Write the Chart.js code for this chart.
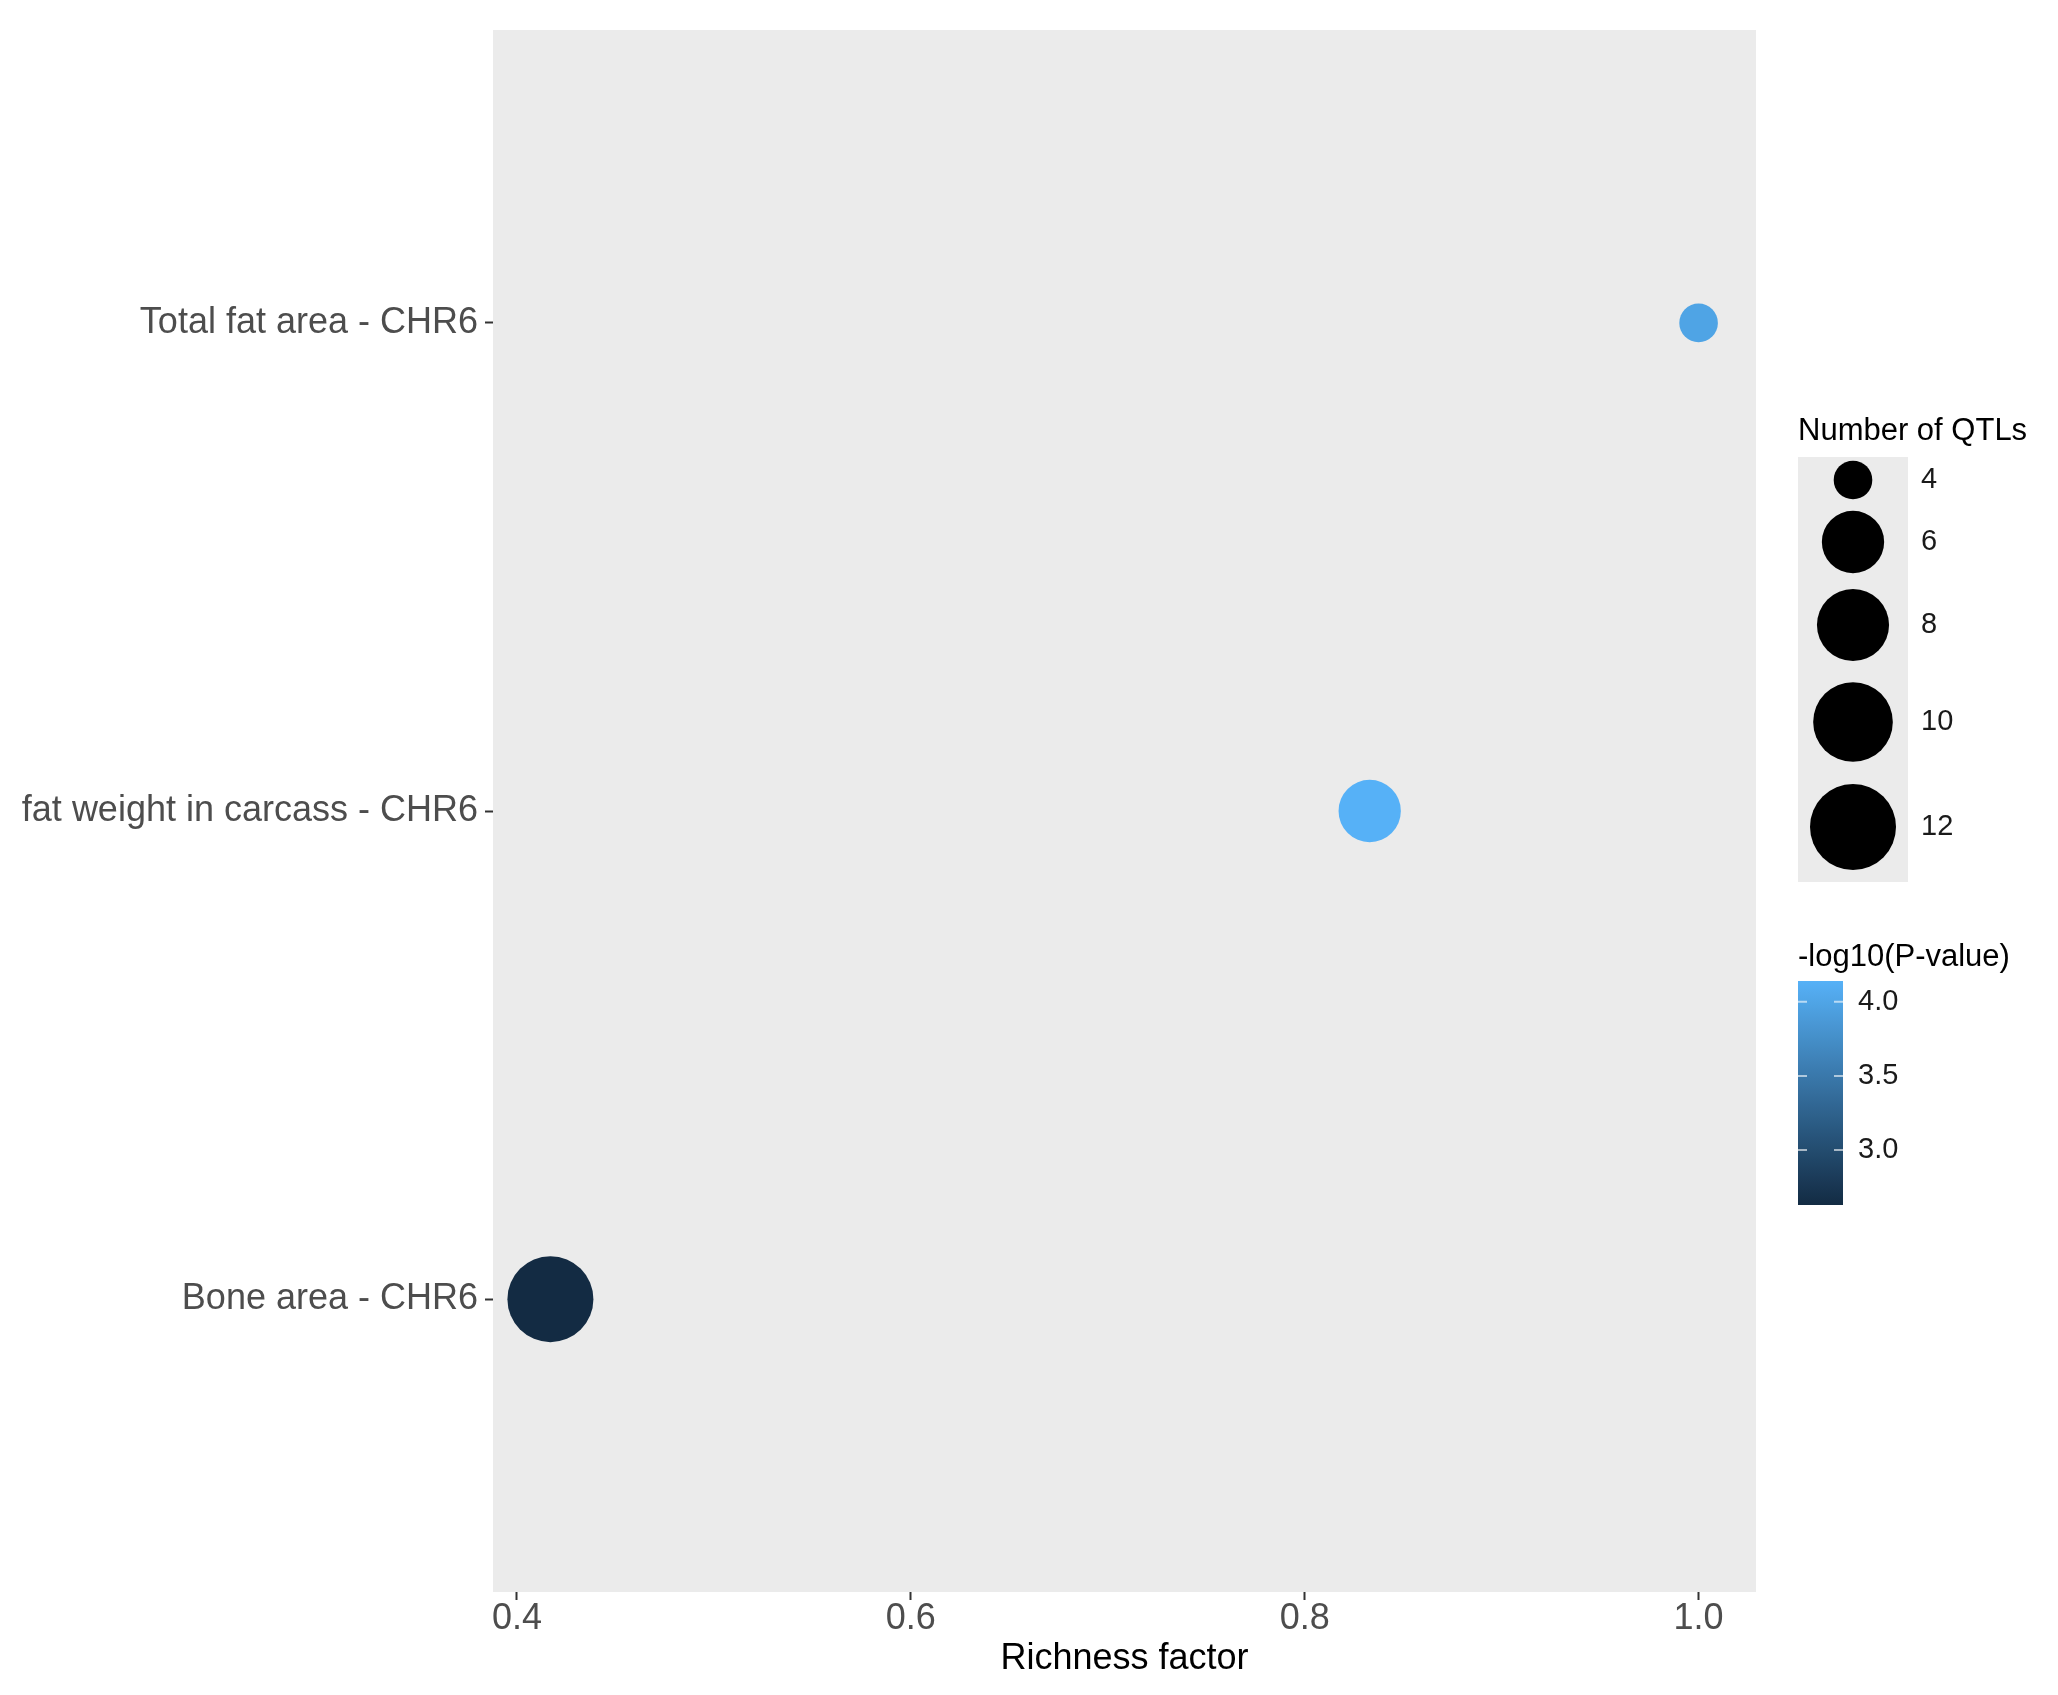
<!DOCTYPE html>
<html lang="en">
<head>
<meta charset="UTF-8">
<title>QTL enrichment</title>
<script src="https://cdn.jsdelivr.net/npm/chart.js"></script>
<style>
    body { margin: 0; background: #fff; }
    #wrap { width: 2058px; height: 1695px; }
</style>
</head>
<body>
<div id="wrap"><canvas id="qtlChart" width="2058" height="1695"></canvas></div>
<script>
    // data
    const traits = ['Total fat area - CHR6', 'fat weight in carcass - CHR6', 'Bone area - CHR6'];
    const richness = [1.0, 0.833, 0.417];
    const qtlCount = [4, 6, 12];
    const logP = [3.99, 4.14, 2.63];
    const xTicks = [0.4, 0.6, 0.8, 1.0];
    const sizeBreaks = [4, 6, 8, 10, 12];
    const colorBreaks = [3.0, 3.5, 4.0];

    const FONT = '"Liberation Sans", Arial, Helvetica, sans-serif';
    Chart.defaults.font.family = FONT;

    // size scale (area style, like ggplot scale_size)
    const qMin = Math.min(...qtlCount), qMax = Math.max(...qtlCount);
    function radiusOf(n) {
        return 19.3 + 23.7 * Math.sqrt((n - qMin) / (qMax - qMin));
    }

    // colour scale, low -> high
    const pMin = Math.min(...logP), pMax = Math.max(...logP);
    const lowCol = [19, 43, 67], highCol = [86, 177, 247];
    function colorOf(v) {
        const t = Math.max(0, Math.min(1, (v - pMin) / (pMax - pMin)));
        const c = lowCol.map((l, i) => Math.round(l + (highCol[i] - l) * t));
        return 'rgb(' + c.join(',') + ')';
    }

    // x range with 5% expansion
    const rMin = Math.min(...richness), rMax = Math.max(...richness);
    const xPad = (rMax - rMin) * 0.05;

    const panelBg = {
        id: 'panelBg',
        beforeDraw(chart) {
            const {ctx, chartArea: a} = chart;
            ctx.save();
            ctx.fillStyle = '#ffffff';
            ctx.fillRect(0, 0, chart.width, chart.height);
            ctx.fillStyle = '#EBEBEB';
            ctx.fillRect(a.left, a.top, a.right - a.left, a.bottom - a.top);
            ctx.restore();
        }
    };

    const sideLegends = {
        id: 'sideLegends',
        afterDraw(chart) {
            const ctx = chart.ctx;
            const left = 1798;
            ctx.save();
            ctx.textAlign = 'left';
            ctx.textBaseline = 'middle';

            // size legend
            ctx.fillStyle = '#000';
            ctx.font = '31px ' + FONT;
            ctx.fillText('Number of QTLs', left, 431);
            ctx.fillStyle = '#EBEBEB';
            ctx.fillRect(left, 457, 110, 425);
            const keyY = [480, 542, 625, 722, 827];
            sizeBreaks.forEach((b, i) => {
                ctx.fillStyle = '#000';
                ctx.beginPath();
                ctx.arc(1853, keyY[i], radiusOf(b), 0, Math.PI * 2);
                ctx.fill();
                ctx.fillStyle = '#1a1a1a';
                ctx.font = '29px ' + FONT;
                ctx.fillText(String(b), 1921, keyY[i]);
            });

            // colour bar
            ctx.fillStyle = '#000';
            ctx.font = '31px ' + FONT;
            ctx.fillText('-log10(P-value)', left, 957);
            const barTop = 981, barBot = 1205, barW = 45;
            const grad = ctx.createLinearGradient(0, barTop, 0, barBot);
            for (let k = 0; k <= 20; k++) {
                grad.addColorStop(k / 20, colorOf(pMax - (pMax - pMin) * k / 20));
            }
            ctx.fillStyle = grad;
            ctx.fillRect(left, barTop, barW, barBot - barTop);
            const yOf = v => barTop + (pMax - v) / (pMax - pMin) * (barBot - barTop);
            ctx.strokeStyle = 'rgba(255,255,255,0.6)';
            ctx.lineWidth = 2;
            colorBreaks.forEach(b => {
                const y = yOf(b);
                ctx.beginPath();
                ctx.moveTo(left, y); ctx.lineTo(left + 9, y);
                ctx.moveTo(left + barW - 9, y); ctx.lineTo(left + barW, y);
                ctx.stroke();
                ctx.fillStyle = '#1a1a1a';
                ctx.font = '29px ' + FONT;
                ctx.fillText(b.toFixed(1), 1858, y);
            });
            ctx.restore();
        }
    };

    const tickGrid = {
        display: true,
        drawOnChartArea: false,
        drawTicks: true,
        tickLength: 8,
        tickWidth: 2,
        tickColor: '#333333'
    };

    new Chart(document.getElementById('qtlChart'), {
        type: 'scatter',
        data: {
            datasets: [{
                data: traits.map((t, i) => ({x: richness[i], y: i + 1})),
                pointRadius: c => radiusOf(qtlCount[c.dataIndex]),
                pointHoverRadius: c => radiusOf(qtlCount[c.dataIndex]),
                pointBackgroundColor: c => colorOf(logP[c.dataIndex]),
                pointBorderWidth: 0
            }]
        },
        options: {
            responsive: false,
            animation: false,
            devicePixelRatio: 1,
            layout: {
                autoPadding: false,
                padding: { top: 30, right: 302, left: 0, bottom: 0 }
            },
            plugins: {
                legend: { display: false },
                tooltip: { enabled: false }
            },
            scales: {
                x: {
                    type: 'linear',
                    min: rMin - xPad,
                    max: rMax + xPad,
                    afterBuildTicks: s => { s.ticks = xTicks.map(v => ({value: v})); },
                    afterFit: s => {
                        s.height = 103;
                        s.paddingLeft = 0;
                        s.paddingRight = 0;
                    },
                    grid: tickGrid,
                    border: { display: false },
                    ticks: {
                        font: { size: 36 },
                        color: '#4D4D4D',
                        padding: -3,
                        maxRotation: 0,
                        autoSkip: false,
                        callback: v => Number(v).toFixed(1)
                    },
                    title: {
                        display: true,
                        text: 'Richness factor',
                        color: '#000',
                        font: { size: 36 },
                        padding: { top: 0, bottom: 14 }
                    }
                },
                y: {
                    type: 'linear',
                    min: 0.4,
                    max: 3.6,
                    reverse: true,
                    afterBuildTicks: s => { s.ticks = traits.map((t, i) => ({value: i + 1})); },
                    afterFit: s => {
                        s.width = 493;
                        s.paddingTop = 0;
                        s.paddingBottom = 0;
                    },
                    grid: tickGrid,
                    border: { display: false },
                    ticks: {
                        font: { size: 36 },
                        color: '#4D4D4D',
                        padding: 7,
                        autoSkip: false,
                        callback: v => traits[v - 1]
                    }
                }
            }
        },
        plugins: [panelBg, sideLegends]
    });
</script>
</body>
</html>
